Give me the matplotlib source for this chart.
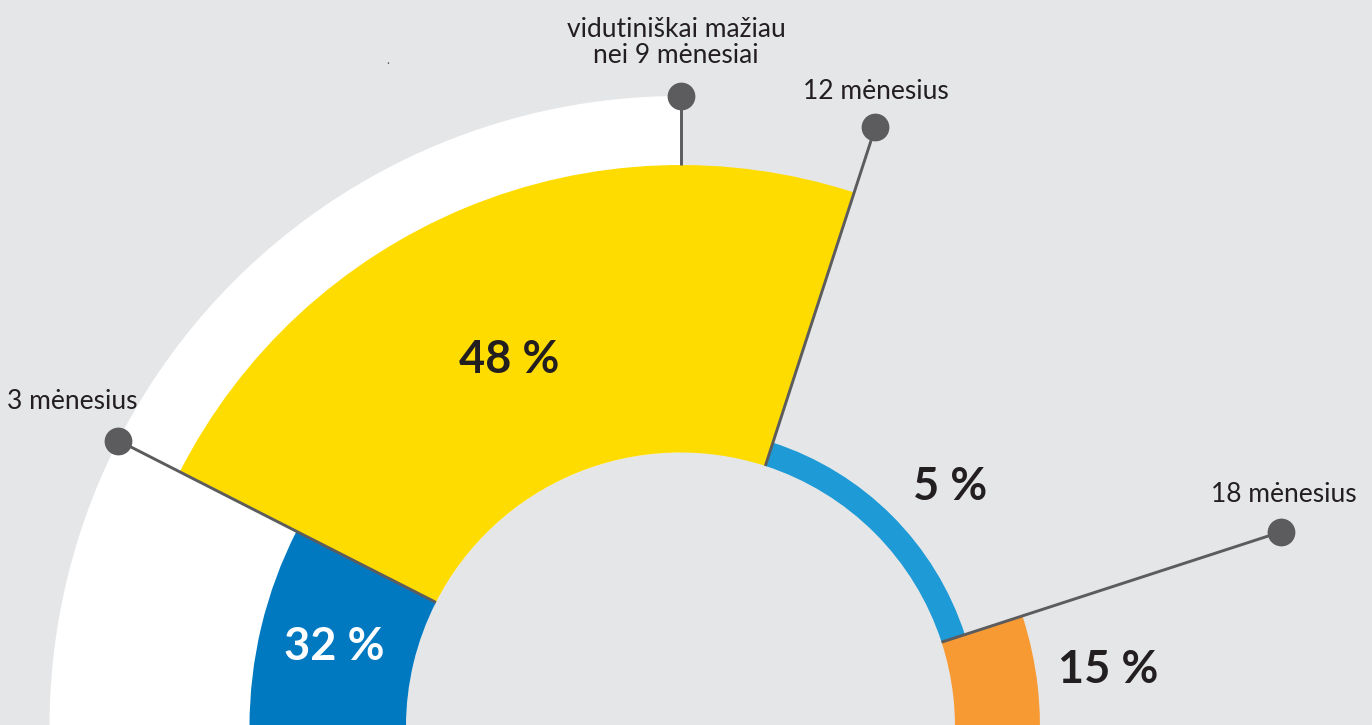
import matplotlib
matplotlib.use("Agg")
import matplotlib.pyplot as plt
from matplotlib.patches import Wedge
import numpy as np

# ---------------- data ----------------
shares = [32, 48, 5, 15]
share_labels = [f"{v} %" for v in shares]
marker_labels = ["3 mėnesius", "vidutiniškai mažiau\nnei 9 mėnesiai", "12 mėnesius", "18 mėnesius"]

# ---------------- geometry / style ----------------
W, H = 1372, 725
CX, CY = 680.5, -2.0          # ring centre (data coords, y up)
R_IN = 274.5
R_WHITE = 631
seg_bounds = [180, 153, 72, 18, -5]       # degrees, boundaries between segments
seg_outer = [431, 562, 299, 359.5]
seg_colors = ["#0079C1", "#FFDC00", "#1E9AD6", "#F79A33"]
marker_angles = [153, 90, 72, 18]
marker_start = [R_IN, 562, R_IN, R_IN]

BG = "#E5E6E8"
GRAY = "#5C5C5E"
TXT = "#231F20"
FONT = ["Lato", "DejaVu Sans"]

fig = plt.figure(figsize=(W / 100, H / 100), dpi=100, facecolor=BG)
ax = fig.add_axes([0, 0, 1, 1])
ax.set_facecolor(BG)
ax.set_xlim(0, W)
ax.set_ylim(0, H)
ax.set_aspect("equal")
ax.axis("off")

# white quarter ring behind
ax.add_patch(Wedge((CX, CY), R_WHITE, 90, 180, width=R_WHITE - R_IN,
                   facecolor="white", edgecolor="none", zorder=1))

for i in range(len(shares)):
    a1, a0 = seg_bounds[i], seg_bounds[i + 1]
    ro = seg_outer[i]
    ax.add_patch(Wedge((CX, CY), ro, a0, a1, width=ro - R_IN,
                       facecolor=seg_colors[i], edgecolor="none", zorder=2))

# marker lines and dots
for ang, r0 in zip(marker_angles, marker_start):
    t = np.deg2rad(ang)
    xs = [CX + r0 * np.cos(t), CX + R_WHITE * np.cos(t)]
    ys = [CY + r0 * np.sin(t), CY + R_WHITE * np.sin(t)]
    ax.plot(xs, ys, color=GRAY, lw=2.1, solid_capstyle="butt", zorder=3)
    ax.plot(xs[1], ys[1], "o", color=GRAY, markersize=20, markeredgewidth=0, zorder=4)

def py(y):  # pixel-from-top to data y
    return H - y

# marker labels
ax.text(72.5, py(409), marker_labels[0], ha="center", va="baseline",
        fontsize=19, color=TXT, family=FONT)
ax.text(676, py(63), marker_labels[1], ha="center", va="baseline",
        fontsize=19, color=TXT, family=FONT, linespacing=1.05, multialignment="center")
ax.text(876, py(99), marker_labels[2], ha="center", va="baseline",
        fontsize=19, color=TXT, family=FONT)
ax.text(1283.5, py(502.5), marker_labels[3], ha="center", va="baseline",
        fontsize=19, color=TXT, family=FONT)

# share labels
share_pos = [(334, 660), (509.5, 373), (950, 500), (1108.5, 683)]
share_cols = ["white", TXT, TXT, TXT]
for lab, (x, y), c in zip(share_labels, share_pos, share_cols):
    ax.text(x, py(y), lab, ha="center", va="baseline", fontsize=32.5,
            fontweight="bold", color=c, family=FONT)

# small stray mark
ax.text(388, py(64), ".", ha="center", va="baseline", fontsize=9, color=GRAY, family=FONT)

fig.savefig("out.png", dpi=100, facecolor=BG)
